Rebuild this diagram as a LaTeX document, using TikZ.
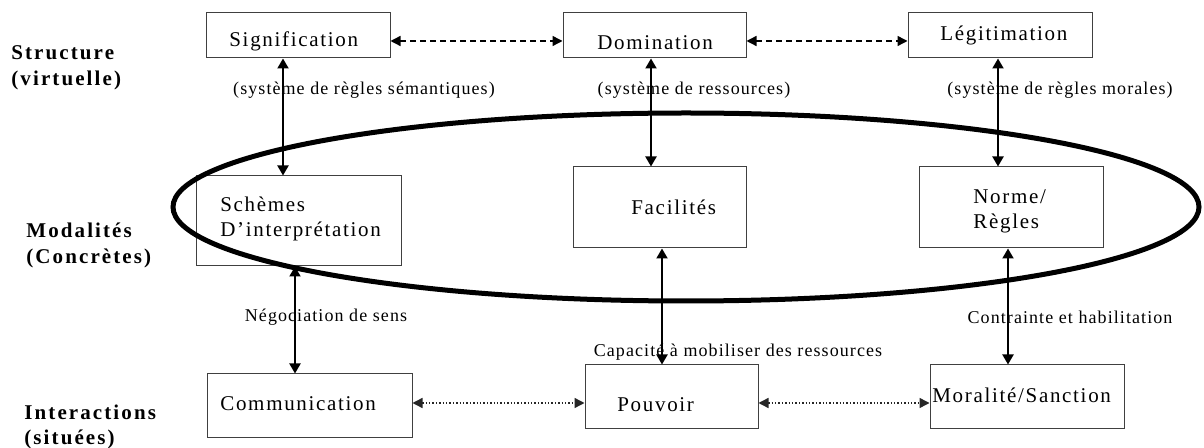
\documentclass[tikz,border=0pt]{standalone}
\usepackage{fontspec}
\setmainfont{Liberation Serif}
\usetikzlibrary{arrows.meta}

\begin{document}
\begin{tikzpicture} [x=0.5pt,y=-0.5pt,
  boite/.style={draw=black!75, line width=0.5pt, inner sep=0},
  txt/.style={font=\fontsize{10.5}{12.5}\selectfont\addfontfeatures{LetterSpace=8}, inner sep=0, anchor=west, align=left},
  niv/.style={font=\fontsize{10.5}{12.8}\selectfont\bfseries\addfontfeatures{LetterSpace=10}, inner sep=0, anchor=west, align=left},
  lien/.style={font=\fontsize{9}{11}\selectfont\addfontfeatures{LetterSpace=6}, inner sep=0},
  fl/.style={black, line width=1pt, <->, >={Triangle[length=5pt,width=5.5pt]}},
  tir/.style={black, line width=0.7pt, <->, >={Triangle[length=5pt,width=5pt]}, dash pattern=on 3pt off 2pt},
  pts/.style={black!85, line width=0.7pt, <->, >={Triangle[length=5pt,width=5pt]}, densely dotted}]
\useasboundingbox (0,0) rectangle (1204,448);
% niveaux
\node[niv] (structure) at (11,67.5) {Structure\\(virtuelle)};
\node[niv] (modalites) at (26,245.5) {Modalités\\(Concrètes)};
\node[niv] (interactions) at (24,427) {Interactions\\(situées)};
% structure
\node[boite, minimum width=92pt, minimum height=22.5pt] (sig) at (298,35.5) {};
\node[boite, minimum width=91.5pt, minimum height=22.5pt] (dom) at (654.5,35.5) {};
\node[boite, minimum width=92pt, minimum height=22.5pt] (leg) at (1000,35.5) {};
\node[txt] (sigt) at (229,41) {Signification};
\node[txt] (domt) at (597,43) {Domination};
\node[txt] (legt) at (940,35) {Légitimation};
% modalites
\node[boite, minimum width=102.5pt, minimum height=45pt] (sch) at (298.5,221) {};
\node[boite, minimum width=86.5pt, minimum height=40.5pt] (fac) at (659.5,207.5) {};
\node[boite, minimum width=92pt, minimum height=40.5pt] (nor) at (1011,207.5) {};
\node[txt] (scht) at (220,218.5) {Schèmes\\D’interprétation};
\node[txt] (fact) at (631,207) {Facilités};
\node[txt] (nort) at (973,211) {Norme/\\Règles};
% interactions
\node[boite, minimum width=102.5pt, minimum height=31.5pt] (com) at (309.5,405.5) {};
\node[boite, minimum width=86.5pt, minimum height=31.5pt] (pou) at (671.5,396.5) {};
\node[boite, minimum width=97pt, minimum height=31.5pt] (mor) at (1027,396.5) {};
\node[txt] (comt) at (220,404) {Communication};
\node[txt] (pout) at (617,405) {Pouvoir};
\node[txt] (mort) at (932,395) {Moralité/Sanction};
% ellipse des modalites
\draw[line width=2.5pt] (686,207) ellipse [x radius=256.5pt, y radius=47pt];
% liens
\node[lien] (l1) at (364,90) {(système de règles sémantiques)};
\node[lien] (l2) at (694,90) {(système de ressources)};
\node[lien] (l3) at (1060,90) {(système de règles morales)};
\node[lien] (l4) at (326,317) {Négociation de sens};
\node[lien] (l5) at (738,352) {Capacité à mobiliser des ressources};
\node[lien] (l6) at (1070,317) {Contrainte et habilitation};
\foreach \a/\b/\s in {sig/sch/-7.5pt, dom/fac/-1.75pt, leg/nor/-1pt, sch/com/-1.75pt, fac/pou/1.25pt, nor/mor/-1.5pt}
  \draw[fl] ([xshift=\s]\a.south) -- ([xshift=\s]\a.south |- \b.north);
\draw[tir] ([yshift=-2.75pt]sig.east) -- ([yshift=-2.75pt]sig.east -| dom.west);
\draw[tir] ([yshift=-2.75pt]dom.east) -- ([yshift=-2.75pt]dom.east -| leg.west);
\draw[pts] ([yshift=1.25pt]com.east) -- ([yshift=1.25pt]com.east -| pou.west);
\draw[pts] ([yshift=-3.25pt]pou.east) -- ([yshift=-3.25pt]pou.east -| mor.west);
\end{tikzpicture}
\end{document}
